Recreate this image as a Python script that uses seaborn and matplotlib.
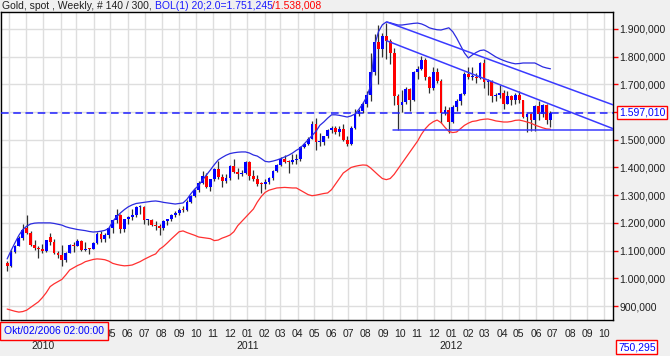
import matplotlib
matplotlib.use("Agg")
import matplotlib.pyplot as plt
import matplotlib.dates as mdates
import matplotlib.ticker as mticker
import seaborn as sns
import numpy as np
import pandas as pd

# weekly gold candles, week of 2009-10-26 .. 2012-06-25
start_day = "2009-10-28"
opens = [1057, 1045, 1096, 1118, 1145, 1180, 1162, 1120, 1110, 1104,
         1097, 1150, 1131, 1090, 1084, 1066, 1093, 1119, 1118, 1133,
         1102, 1106, 1105, 1126, 1161, 1142, 1156, 1180, 1209, 1228,
         1177, 1213, 1220, 1228, 1256, 1256, 1209, 1210, 1191, 1189,
         1181, 1205, 1214, 1227, 1237, 1248, 1246, 1275, 1297, 1318,
         1345, 1370, 1328, 1357, 1394, 1366, 1352, 1363, 1406, 1385,
         1377, 1380, 1421, 1368, 1360, 1342, 1340, 1349, 1361, 1388,
         1409, 1429, 1421, 1419, 1428, 1429, 1474, 1486, 1504, 1556,
         1491, 1493, 1512, 1536, 1542, 1529, 1540, 1500, 1485, 1544,
         1594, 1602, 1628, 1663, 1743, 1852, 1828, 1876, 1856, 1812,
         1657, 1624, 1636, 1682, 1643, 1746, 1755, 1788, 1725, 1686,
         1746, 1712, 1598, 1607, 1565, 1617, 1639, 1664, 1738, 1725,
         1725, 1723, 1776, 1710, 1711, 1659, 1662, 1669, 1630, 1658,
         1643, 1663, 1643, 1581, 1592, 1573, 1622, 1592, 1627, 1572]
highs = [1063, 1101, 1120, 1153, 1195, 1227, 1170, 1140, 1115, 1122,
         1140, 1162, 1141, 1098, 1120, 1096, 1124, 1130, 1143, 1140,
         1130, 1108, 1130, 1167, 1170, 1162, 1185, 1210, 1249, 1232,
         1215, 1225, 1250, 1260, 1265, 1262, 1215, 1215, 1206, 1195,
         1212, 1215, 1232, 1242, 1255, 1260, 1283, 1300, 1322, 1350,
         1388, 1381, 1360, 1398, 1424, 1375, 1375, 1410, 1432, 1397,
         1392, 1424, 1423, 1392, 1372, 1348, 1358, 1367, 1392, 1414,
         1437, 1445, 1426, 1447, 1448, 1476, 1490, 1509, 1569, 1577,
         1523, 1515, 1540, 1550, 1550, 1549, 1557, 1513, 1548, 1610,
         1610, 1635, 1675, 1814, 1881, 1913, 1884, 1921, 1864, 1832,
         1665, 1680, 1690, 1688, 1748, 1766, 1802, 1796, 1730, 1764,
         1760, 1720, 1620, 1618, 1625, 1648, 1670, 1745, 1764, 1763,
         1740, 1782, 1792, 1718, 1715, 1670, 1699, 1681, 1677, 1661,
         1668, 1677, 1645, 1598, 1595, 1627, 1641, 1628, 1630, 1604]
lows = [1026, 1041, 1090, 1115, 1140, 1160, 1115, 1103, 1075, 1093,
        1095, 1120, 1088, 1075, 1044, 1058, 1090, 1095, 1115, 1100,
        1098, 1087, 1104, 1125, 1130, 1132, 1146, 1164, 1200, 1165,
        1166, 1195, 1210, 1220, 1232, 1195, 1192, 1188, 1176, 1157,
        1176, 1192, 1205, 1220, 1230, 1240, 1244, 1270, 1292, 1312,
        1340, 1325, 1316, 1352, 1358, 1330, 1345, 1355, 1380, 1360,
        1370, 1376, 1353, 1350, 1334, 1309, 1322, 1340, 1355, 1385,
        1405, 1415, 1381, 1412, 1414, 1425, 1470, 1480, 1502, 1462,
        1478, 1480, 1505, 1525, 1520, 1512, 1495, 1478, 1480, 1540,
        1585, 1598, 1618, 1640, 1735, 1702, 1800, 1793, 1772, 1627,
        1535, 1600, 1630, 1604, 1640, 1720, 1750, 1715, 1669, 1680,
        1705, 1562, 1590, 1523, 1562, 1605, 1625, 1660, 1720, 1715,
        1705, 1720, 1688, 1660, 1635, 1640, 1652, 1612, 1628, 1627,
        1629, 1632, 1578, 1527, 1532, 1532, 1571, 1583, 1558, 1547]
closes = [1045, 1096, 1118, 1145, 1176, 1162, 1120, 1111, 1104, 1097,
          1138, 1131, 1090, 1084, 1066, 1093, 1119, 1118, 1133, 1102,
          1106, 1105, 1126, 1161, 1142, 1156, 1180, 1209, 1228, 1177,
          1213, 1220, 1228, 1256, 1256, 1209, 1210, 1191, 1189, 1181,
          1205, 1214, 1227, 1237, 1248, 1246, 1275, 1297, 1318, 1345,
          1370, 1328, 1357, 1394, 1366, 1352, 1363, 1406, 1385, 1377,
          1380, 1421, 1368, 1360, 1342, 1340, 1349, 1361, 1388, 1409,
          1429, 1421, 1419, 1428, 1429, 1474, 1486, 1504, 1556, 1491,
          1493, 1512, 1536, 1542, 1529, 1540, 1500, 1485, 1544, 1594,
          1602, 1628, 1663, 1743, 1852, 1828, 1876, 1856, 1812, 1657,
          1624, 1636, 1682, 1643, 1746, 1755, 1788, 1725, 1686, 1746,
          1712, 1598, 1607, 1565, 1617, 1639, 1664, 1738, 1725, 1725,
          1723, 1776, 1710, 1711, 1659, 1662, 1669, 1630, 1658, 1643,
          1663, 1643, 1581, 1592, 1573, 1622, 1592, 1627, 1572, 1597]

# Bollinger(20, 2.0) bands
boll_upper = [1070, 1100, 1128, 1155, 1176, 1188, 1196, 1199, 1200, 1200,
              1200, 1200, 1198, 1195, 1192, 1186, 1182, 1179, 1176, 1174,
              1172, 1169, 1167, 1168, 1170, 1173, 1180, 1205, 1222, 1236,
              1248, 1258, 1265, 1270, 1272, 1274, 1276, 1278, 1279, 1277,
              1274, 1272, 1270, 1268, 1270, 1272, 1285, 1305, 1322, 1335,
              1355, 1373, 1391, 1410, 1427, 1436, 1444, 1450, 1453, 1455,
              1456, 1456, 1452, 1445, 1441, 1432, 1422, 1420, 1423, 1427,
              1432, 1438, 1444, 1452, 1462, 1470, 1485, 1500, 1515, 1530,
              1552, 1564, 1578, 1590, 1590, 1588, 1585, 1582, 1586, 1593,
              1610, 1630, 1655, 1695, 1840, 1890, 1915, 1925, 1922, 1918,
              1914, 1914, 1916, 1918, 1920, 1921, 1918, 1912, 1904, 1900,
              1897, 1896, 1900, 1904, 1890, 1867, 1840, 1813, 1795, 1806,
              1815, 1822, 1824, 1817, 1808, 1799, 1792, 1786, 1781, 1777,
              1774, 1775, 1777, 1777, 1777, 1777, 1770, 1763, 1759, 1756]
boll_lower = [889, 885, 881, 878, 880, 885, 895, 905, 915, 930,
              948, 970, 980, 988, 996, 1012, 1030, 1038, 1046, 1052,
              1060, 1064, 1068, 1070, 1069, 1067, 1062, 1054, 1050, 1047,
              1045, 1046, 1048, 1054, 1060, 1068, 1075, 1082, 1088, 1105,
              1115, 1128, 1142, 1155, 1168, 1171, 1165, 1160, 1155, 1149,
              1147, 1145, 1143, 1136, 1138, 1145, 1150, 1156, 1168, 1190,
              1205, 1220, 1235, 1250, 1275, 1295, 1310, 1318, 1322, 1326,
              1327, 1328, 1327, 1326, 1326, 1318, 1310, 1302, 1298, 1300,
              1303, 1306, 1308, 1320, 1340, 1360, 1380, 1390, 1400, 1404,
              1407, 1409, 1408, 1398, 1385, 1372, 1360, 1356, 1360, 1375,
              1395, 1415, 1435, 1455, 1475, 1495, 1520, 1540, 1555, 1565,
              1571, 1562, 1545, 1530, 1526, 1528, 1540, 1552, 1560, 1566,
              1568, 1572, 1574, 1575, 1572, 1568, 1566, 1564, 1564, 1566,
              1570, 1571, 1568, 1564, 1560, 1553, 1548, 1543, 1539, 1538]

# hand drawn lines: (date, price) pairs
trend_lines = [
    (["2011-09-08", "2012-10-17"], [1925, 1626]),
    (["2011-09-08", "2012-10-17"], [1857, 1540]),
    (["2011-09-19", "2012-10-17"], [1535, 1535]),
]
last_price = 1597.010
price_ticks = [900, 1000, 1100, 1200, 1300, 1400, 1500, 1600, 1700, 1800, 1900]
year_labels = ["2010", "2011", "2012"]

BLUE = "#0000ff"
RED = "#ff0000"
BG = "#f0f0f0"


def fmt_price(v):
    s = f"{v:,.3f}"
    return s.replace(",", "X").replace(".", ",").replace("X", ".")


sns.set_style("white")
plt.rcParams["font.family"] = ["Liberation Sans", "DejaVu Sans"]

week = pd.date_range(start_day, periods=len(closes), freq="7D")
xs = mdates.date2num(week)
df = pd.DataFrame({"x": xs, "open": opens, "high": highs, "low": lows,
                   "close": closes, "upper": boll_upper, "lower": boll_lower})

fig = plt.figure(figsize=(6.7, 3.56), dpi=100, facecolor=BG)
ax = fig.add_axes([1 / 670, 36 / 356, 612 / 670, 308 / 356])
ax.set_facecolor("white")

x0 = mdates.date2num(pd.Timestamp("2009-10-17"))
x1 = mdates.date2num(pd.Timestamp("2012-10-17"))
ax.set_xlim(x0, x1)
ax.set_ylim(849.5, 1961)

# grid
months = pd.date_range("2009-11-01", "2012-10-01", freq="MS")
for m in mdates.date2num(months):
    ax.axvline(m, color="#dedede", lw=1.0, zorder=0)
for p in price_ticks:
    ax.axhline(p, color="#dedede", lw=1.0, zorder=0)

# candles
up = df["close"] >= df["open"]
ax.vlines(df["x"], df["low"], df["high"], color="#303030", lw=0.9, zorder=2)
body = (df["close"] - df["open"]).abs().clip(lower=3.5)
bottom = np.minimum(df["open"], df["close"])
ax.bar(df["x"][up], body[up], bottom=bottom[up], width=5.0,
       color=BLUE, linewidth=0, zorder=3)
ax.bar(df["x"][~up], body[~up], bottom=bottom[~up], width=5.0,
       color=RED, linewidth=0, zorder=3)

# bollinger bands
sns.lineplot(data=df, x="x", y="upper", ax=ax, color="#2a2ae0", lw=0.9, zorder=4)
sns.lineplot(data=df, x="x", y="lower", ax=ax, color="#ff3030", lw=0.9, zorder=4)

# trend lines
for dates, prices in trend_lines:
    ax.plot(mdates.date2num(pd.to_datetime(dates)), prices, color="#3a3aff",
            lw=1.1, zorder=5, clip_on=True)

ax.axhline(last_price, color="#1f1fff", lw=1.1, ls=(0, (5, 3)), zorder=5)

# axes styling
for s in ax.spines.values():
    s.set_color("black")
    s.set_linewidth(1.0)
ax.yaxis.tick_right()
ax.set_yticks(price_ticks)
ax.set_yticklabels([fmt_price(p) for p in price_ticks])

# month labels hidden under the date box are left blank
label_from = mdates.date2num(pd.Timestamp("2010-05-01"))


def month_label(v, pos=None):
    if v < label_from - 1:
        return ""
    return mdates.num2date(v).strftime("%m")


ax.xaxis.set_major_locator(mdates.MonthLocator())
ax.xaxis.set_major_formatter(mticker.FuncFormatter(month_label))
ax.tick_params(axis="both", colors=RED, labelcolor="#202020", labelsize=7.5,
               length=3.5, width=1.0, direction="out")
ax.tick_params(axis="y", pad=1)
ax.tick_params(axis="x", pad=3)
ax.set_xlabel("")
ax.set_ylabel("")

for yl in year_labels:
    xm = mdates.date2num(pd.Timestamp(f"{yl}-01-01"))
    ax.text(xm, -0.085, yl, transform=ax.get_xaxis_transform(), ha="center",
            va="center", fontsize=7.5, color="#202020")

# boxes
box = dict(boxstyle="square,pad=0.15", fc="white", ec=RED, lw=1.0)
ax.text(1.0 + 6 / 612, last_price, fmt_price(last_price),
        transform=ax.get_yaxis_transform(), va="center", ha="left",
        fontsize=7.5, color=BLUE, bbox=box)
fig.text(618 / 670, 1 - 347 / 356, "750,295", ha="left", va="center",
         fontsize=7.5, color=BLUE,
         bbox=dict(boxstyle="square,pad=0.15", fc="white", ec=RED, lw=1.0))
fig.text(4 / 670, 1 - 331 / 356, "Okt/02/2006 02:00:00", ha="left",
         va="center", fontsize=7.5, color=BLUE,
         bbox=dict(boxstyle="square,pad=0.35", fc=BG, ec=RED, lw=1.0))

# header line in three colours
parts = [("Gold, spot , Weekly, # 140 / 300, ", "#202020"),
         ("BOL(1) 20;2.0=1.751,245", "#1a1aff"),
         ("/1.538,008", RED)]
renderer = fig.canvas.get_renderer()
xpos = 2
for txt, col in parts:
    t = fig.text(xpos / 670, 1 - 6 / 356, txt, ha="left", va="center",
                 fontsize=7.5, color=col)
    xpos = t.get_window_extent(renderer).x1

fig.savefig("out.png", dpi=100, facecolor=BG)
